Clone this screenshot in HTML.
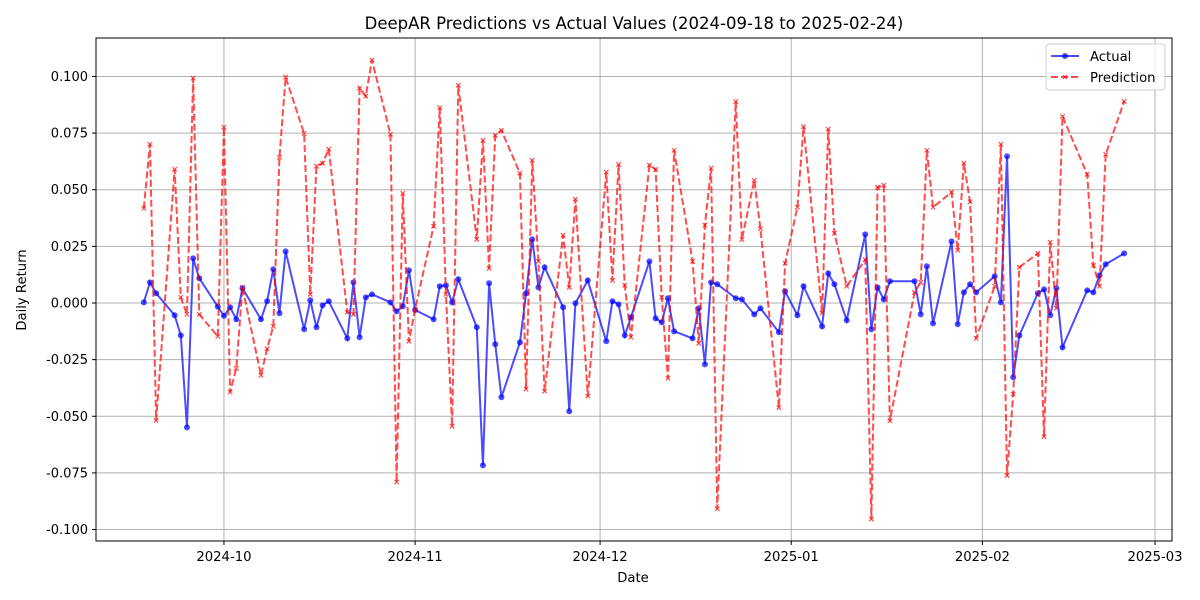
<!DOCTYPE html>
<html><head><meta charset="utf-8"><style>
body{margin:0;background:#fff;}
svg{display:block;font-family:"DejaVu Sans","Liberation Sans",sans-serif;}
</style></head><body>
<svg id="chart" width="1200" height="600" viewBox="0 0 1200 600"></svg>
<script>
// Days since 2024-09-18
const dayOffsets=[0,1,2,5,6,7,8,9,12,13,14,15,16,19,20,21,22,23,26,27,28,29,30,33,34,35,36,37,40,41,42,43,44,47,48,49,50,51,54,55,56,57,58,61,62,63,64,65,68,69,70,72,75,76,77,78,79,82,83,84,85,86,89,90,91,92,93,96,97,99,100,103,104,106,107,110,111,112,114,117,118,119,120,121,125,126,127,128,131,132,133,134,135,138,139,140,141,142,145,146,147,148,149,153,154,155,156,159];
const actualValues=[.0003,.0091,.0043,-.0054,-.0143,-.0549,.0197,.0109,-.0016,-.0057,-.0019,-.0072,.0065,-.0072,.0008,.0149,-.0045,.0228,-.0116,.0012,-.0107,-.0010,.0008,-.0156,.0091,-.0151,.0025,.0038,.0003,-.0037,-.0015,.0144,-.0031,-.0072,.0074,.0078,.0003,.0105,-.0107,-.0717,.0087,-.0182,-.0416,-.0174,.0043,.0281,.0069,.0158,-.0019,-.0478,-.0001,.0100,-.0169,.0008,-.0006,-.0143,-.0063,.0184,-.0068,-.0085,.0021,-.0125,-.0156,-.0023,-.0271,.0091,.0083,.0021,.0016,-.0050,-.0023,-.0129,.0052,-.0054,.0074,-.0103,.0131,.0083,-.0076,.0303,-.0116,.0069,.0016,.0096,.0096,-.0050,.0162,-.0090,.0272,-.0094,.0047,.0083,.0047,.0118,.0003,.0648,-.0328,-.0143,.0043,.0060,-.0054,.0065,-.0196,.0056,.0047,.0122,.0171,.0219];
const predValues=[.0418,.0701,-.0518,.0590,.0025,-.0050,.0992,-.0050,-.0147,.0776,-.0393,-.0288,.0069,-.0319,-.0202,-.0103,.0643,.0997,.0748,.0038,.0604,.0617,.0679,-.0041,-.0050,.0948,.0913,.1072,.0745,-.0790,.0484,-.0169,-.0028,.0339,.0862,.0038,-.0544,.0961,.0281,.0718,.0153,.0740,.0762,.0573,-.0380,.0630,.0184,-.0389,.0299,.0069,.0458,-.0411,.0577,.0100,.0612,.0078,-.0151,.0608,.0590,.0025,-.0332,.0674,.0184,-.0178,.0343,.0595,-.0908,.0889,.0280,.0542,.0328,-.0462,.0175,.0423,.0778,-.0044,.0767,.0308,.0074,.0191,-.0954,.0511,.0520,-.0520,.0047,.0091,.0674,.0423,.0489,.0233,.0617,.0447,-.0156,.0074,.0701,-.0762,-.0402,.0158,.0219,-.0590,.0268,-.0023,.0824,.0568,.0166,.0074,.0656,.0890];
const yTicks=[-0.100,-0.075,-0.050,-0.025,0.000,0.025,0.050,0.075,0.100];
const xTickDays=[13,44,74,105,136,164];
const xTickLabels=["2024-10","2024-11","2024-12","2025-01","2025-02","2025-03"];

const L=96,R=1172,T=38,B=541;
const xS=d=>143.8+d*6.166;
const yS=v=>303-v*2265.4;
const svg=document.getElementById('chart');
const NS='http://www.w3.org/2000/svg';
function mk(tag,attrs,parent){const e=document.createElementNS(NS,tag);for(const k in attrs)e.setAttribute(k,attrs[k]);(parent||svg).appendChild(e);return e;}

const grid=mk('g',{});


yTicks.forEach(v=>{mk('line',{x1:L,x2:R,y1:yS(v),y2:yS(v),stroke:'#b0b0b0','stroke-width':1},grid);});
xTickDays.forEach(d=>{mk('line',{x1:xS(d),x2:xS(d),y1:T,y2:B,stroke:'#b0b0b0','stroke-width':1},grid);});

yTicks.forEach(v=>{
  const y=yS(v);
  mk('line',{x1:L-4,x2:L,y1:y,y2:y,stroke:'#000'});
  const t=mk('text',{x:L-8,y:y+4.5,'text-anchor':'end','font-size':13});
  t.textContent=v.toFixed(3);
  
  
});
xTickDays.forEach((d,i)=>{
  const x=xS(d);
  mk('line',{x1:x,x2:x,y1:B,y2:B+4,stroke:'#000'});
  const t=mk('text',{x:x,y:B+20,'text-anchor':'middle','font-size':13.2});
  t.textContent=xTickLabels[i];
  
  
});

const ag=mk('g',{});


mk('polyline',{points:dayOffsets.map((d,i)=>xS(d)+','+yS(actualValues[i])).join(' '),fill:'none',stroke:'rgba(0,0,255,0.7)','stroke-width':2},ag);
dayOffsets.forEach((d,i)=>{
  const c=mk('circle',{cx:xS(d),cy:yS(actualValues[i]),r:3,fill:'rgba(0,0,255,0.7)'},ag);
  
  
});
const pg=mk('g',{});


mk('polyline',{points:dayOffsets.map((d,i)=>xS(d)+','+yS(predValues[i])).join(' '),fill:'none',stroke:'rgba(255,0,0,0.7)','stroke-width':2,'stroke-dasharray':'7,3'},pg);
dayOffsets.forEach((d,i)=>{
  const x=xS(d),y=yS(predValues[i]),s=2.2;
  const m=mk('path',{d:`M${x-s},${y-s}L${x+s},${y+s}M${x-s},${y+s}L${x+s},${y-s}`,stroke:'rgba(255,0,0,0.7)','stroke-width':1.2},pg);
  
  
});

mk('rect',{x:L,y:T,width:R-L,height:B-T,fill:'none',stroke:'#000','stroke-width':1});
</script>
<svg style="position:absolute;left:0;top:0" width="1200" height="600">
  <text x="634" y="29" text-anchor="middle" font-size="16.5" font-family="DejaVu Sans, sans-serif">DeepAR Predictions vs Actual Values (2024-09-18 to 2025-02-24)</text>
  <text x="633" y="582" text-anchor="middle" font-size="13.2" font-family="DejaVu Sans, sans-serif">Date</text>
  <text transform="translate(26,290) rotate(-90)" text-anchor="middle" font-size="13.2" font-family="DejaVu Sans, sans-serif">Daily Return</text>
  <g>
    <rect x="1046" y="44" width="119" height="46" rx="3" fill="rgba(255,255,255,0.8)" stroke="#ccc"/>
    <g>
      <line x1="1051" x2="1079" y1="56" y2="56" stroke="rgba(0,0,255,0.7)" stroke-width="2"/>
      <circle cx="1065" cy="56" r="3" fill="rgba(0,0,255,0.7)"/>
      <text x="1090" y="61" font-size="13.2" font-family="DejaVu Sans, sans-serif">Actual</text>
    </g>
    <g>
      <line x1="1051" x2="1079" y1="77" y2="77" stroke="rgba(255,0,0,0.7)" stroke-width="2" stroke-dasharray="7,3"/>
      <path d="M1063,75L1067,79M1063,79L1067,75" stroke="rgba(255,0,0,0.7)" stroke-width="1.2"/>
      <text x="1090" y="82" font-size="13.2" font-family="DejaVu Sans, sans-serif">Prediction</text>
    </g>
  </g>
</svg>
</body></html>
